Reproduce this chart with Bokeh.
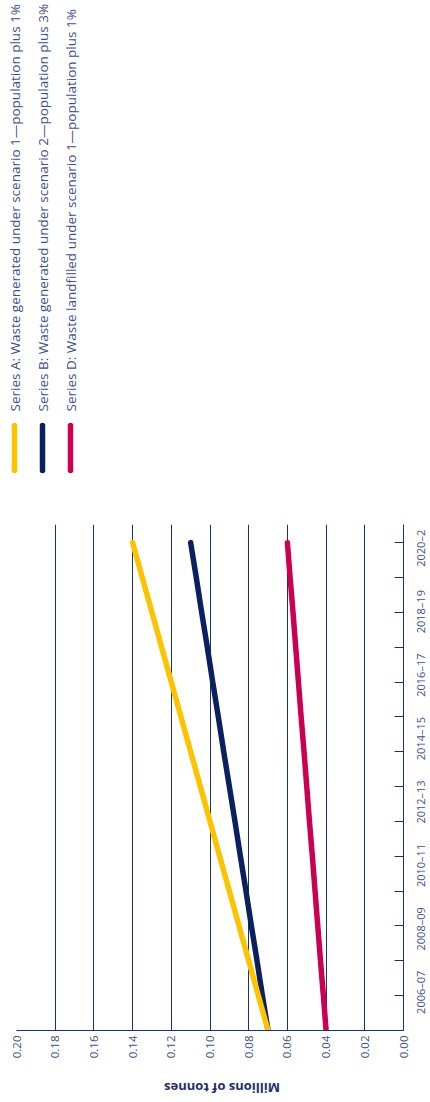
import math
from bokeh.plotting import figure
from bokeh.models import Range1d, LinearAxis, FixedTicker, NumeralTickFormatter
from bokeh.layouts import column, row
from bokeh.core.properties import value
from bokeh.embed import file_html
from bokeh.resources import INLINE

# ---------------- data ----------------
categories = ["2006–07", "2007–08", "2008–09", "2009–10", "2010–11", "2011–12",
              "2012–13", "2013–14", "2014–15", "2015–16", "2016–17", "2017–18",
              "2018–19", "2019–20", "2020–2"]
series_a = [0.070, 0.075, 0.080, 0.085, 0.090, 0.095, 0.100, 0.105,
            0.110, 0.115, 0.120, 0.125, 0.130, 0.135, 0.140]
series_b = [0.070, 0.0729, 0.0757, 0.0786, 0.0814, 0.0843, 0.0871, 0.0900,
            0.0929, 0.0957, 0.0986, 0.1014, 0.1043, 0.1071, 0.1100]
series_d = [0.040, 0.0414, 0.0429, 0.0443, 0.0457, 0.0471, 0.0486, 0.0500,
            0.0514, 0.0529, 0.0543, 0.0557, 0.0571, 0.0586, 0.0600]
legend_labels = ["Series A: Waste generated under scenario 1—population plus 1%",
                 "Series B: Waste generated under scenario 2—population plus 3%",
                 "Series D: Waste landfilled under scenario 1—population plus 1%"]
value_ticks = [0.00, 0.02, 0.04, 0.06, 0.08, 0.10, 0.12, 0.14, 0.16, 0.18, 0.20]
axis_title = "Millions of tonnes"

# ---------------- styles / layout ----------------
YELLOW = "#FDC300"
NAVY = "#0B215F"
RED = "#CC0052"
GRID = "#1A3270"
TEXT = "#3D508B"
FONT = "Open Sans"
W = 430
LEG_H = 516
CH_H = 556
TITLE_H = 30
PLOT_W = 411              # chart figure; frame spans x 16..403
LAB_W = W - PLOT_W        # strip for the category labels
TOP_B, BOT_B = 8, 42
FRAME_H = CH_H - TOP_B - BOT_B
Y_TOP = 14.52             # category-index range shown in the frame
K = FRAME_H / Y_TOP       # pixels per category step

# ---------------- legend figure (top) ----------------
leg = figure(width=W, height=LEG_H, x_range=Range1d(0, W), y_range=Range1d(0, LEG_H),
             output_backend="svg", toolbar_location=None,
             x_axis_location=None, y_axis_location=None, min_border=0)
leg.outline_line_color = None
leg.grid.visible = False
colors = [YELLOW, NAVY, RED]
xs = [14, 42, 70]
leg.segment(x0=xs, x1=xs, y0=[46] * 3, y1=[91] * 3, line_color=colors,
            line_width=5.5, line_cap="round")
leg.text(x=xs, y=[105] * 3, text=legend_labels, angle=math.pi / 2,
         text_align="left", text_baseline="middle", text_font=value(FONT),
         text_font_size="13.5px", text_color=TEXT)

# ---------------- chart figure ----------------
idx = list(range(len(categories)))
p = figure(width=PLOT_W, height=CH_H, x_range=Range1d(0.20, 0.0),
           y_range=Range1d(0, Y_TOP), output_backend="svg",
           toolbar_location=None, y_axis_location=None,
           min_border_left=16, min_border_right=PLOT_W - 403, min_border_top=TOP_B,
           min_border_bottom=BOT_B)
p.outline_line_color = None
p.ygrid.visible = False
p.xgrid.ticker = FixedTicker(ticks=value_ticks)
p.xgrid.grid_line_color = GRID
p.xgrid.grid_line_width = 1

xa = p.xaxis[0]
xa.ticker = FixedTicker(ticks=value_ticks)
xa.formatter = NumeralTickFormatter(format="0.00")
xa.major_label_orientation = math.pi / 2
xa.major_tick_in = 0
xa.major_tick_out = 0
xa.minor_tick_in = 0
xa.minor_tick_out = 0
xa.axis_line_color = GRID
xa.major_label_standoff = 5
xa.major_label_text_font = FONT
xa.major_label_text_font_size = "11.5px"
xa.major_label_text_color = TEXT

# category axis: line and inward ticks; labels sit in the strip to the right
ya = LinearAxis(ticker=FixedTicker(ticks=idx),
                major_label_overrides={i: "" for i in idx})
ya.major_tick_in = 9
ya.major_tick_out = 0
ya.minor_tick_in = 0
ya.minor_tick_out = 0
ya.major_tick_line_color = GRID
ya.axis_line_color = GRID
ya.major_label_standoff = 0
ya.major_label_text_font_size = "0px"
p.add_layout(ya, "right")

p.line(series_b, idx, line_color=NAVY, line_width=5.5, line_cap="round")
p.line(series_a, idx, line_color=YELLOW, line_width=5.5, line_cap="round")
p.line(series_d, idx, line_color=RED, line_width=5.5, line_cap="round")

# ---------------- category label strip (same vertical scale as the frame) ----------------
lab = figure(width=LAB_W, height=CH_H, x_range=Range1d(0, LAB_W),
             y_range=Range1d(-BOT_B / K, Y_TOP + TOP_B / K),
             output_backend="svg", toolbar_location=None,
             x_axis_location=None, y_axis_location=None, min_border=0)
lab.outline_line_color = None
lab.grid.visible = False
lab.text(x=[8.5] * len(idx[::2]), y=idx[::2], text=categories[::2],
         angle=math.pi / 2, text_align="center", text_baseline="middle",
         text_font=value(FONT), text_font_size="11px", text_color=TEXT)

# ---------------- axis title (upside down, as in reference) ----------------
tf = figure(width=W, height=TITLE_H, x_range=Range1d(0, W), y_range=Range1d(0, TITLE_H),
            output_backend="svg", toolbar_location=None,
            x_axis_location=None, y_axis_location=None, min_border=0)
tf.outline_line_color = None
tf.grid.visible = False
tf.text(x=[221.5], y=[14.5], text=[axis_title], angle=math.pi, text_align="center",
        text_baseline="middle", text_font=value(FONT), text_font_style="bold",
        text_font_size="13px", text_color="#1F2F6B")

layout = column(leg, row(p, lab, spacing=0), tf, spacing=0)
open("out.html", "w").write(file_html(layout, INLINE))
